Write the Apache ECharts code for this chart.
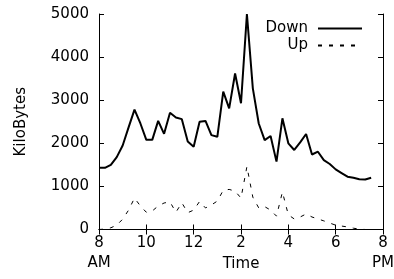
<!DOCTYPE html>
<html>
<head>
<meta charset="utf-8">
<script src="https://cdn.jsdelivr.net/npm/echarts@6/dist/echarts.min.js"></script>
<style>
  html, body { margin: 0; padding: 0; background: #fff; }
  #chart { width: 394px; height: 279px; }
</style>
</head>
<body>
<div id="chart"></div>
<script>
// 15-minute samples, 8:00 to 19:30
const times = [
  '8:00', '8:15', '8:30', '8:45', '9:00', '9:15', '9:30', '9:45',
  '10:00', '10:15', '10:30', '10:45', '11:00', '11:15', '11:30', '11:45',
  '12:00', '12:15', '12:30', '12:45', '13:00', '13:15', '13:30', '13:45',
  '14:00', '14:15', '14:30', '14:45', '15:00', '15:15', '15:30', '15:45',
  '16:00', '16:15', '16:30', '16:45', '17:00', '17:15', '17:30', '17:45',
  '18:00', '18:15', '18:30', '18:45', '19:00', '19:15', '19:30'
];
const down = [
  1430, 1430, 1500, 1680, 1950, 2370, 2780, 2460,
  2080, 2080, 2520, 2220, 2710, 2600, 2560, 2040,
  1920, 2500, 2520, 2190, 2150, 3200, 2810, 3620,
  2930, 5000, 3275, 2460, 2075, 2170, 1575, 2580,
  2000, 1845, 2020, 2215, 1740, 1805, 1610, 1520,
  1395, 1310, 1225, 1200, 1165, 1160, 1200
];
const up = [
  0, 10, 40, 100, 240, 450, 730, 545,
  400, 430, 545, 615, 640, 400, 620, 390,
  450, 650, 500, 570, 660, 910, 930, 890,
  730, 1460, 750, 500, 530, 450, 310, 870,
  340, 245, 290, 360, 290, 245, 200, 150,
  100, 80, 60, 30, 10, 0, 0
];
const xTickLabels = { 8: '8\nAM', 10: '10', 12: '12', 14: '2', 16: '4', 18: '6', 20: '8\nPM' };

const FONT = 'DejaVu Sans';
const toHours = t => { const [h, m] = t.split(':').map(Number); return h + m / 60; };
const pairs = arr => times.map((t, i) => [toHours(t), arr[i]]);

const axisLine = { show: true, lineStyle: { color: '#000', width: 1 } };
const tick = { show: true, inside: true, length: 5, lineStyle: { color: '#000' } };

const chart = echarts.init(document.getElementById('chart'), null, { renderer: 'canvas' });
chart.setOption({
  backgroundColor: '#fff',
  animation: false,
  textStyle: { fontFamily: FONT, color: '#000' },
  grid: { left: 99, right: 11, top: 14, bottom: 49.5, outerBoundsMode: 'none', containLabel: false },
  legend: {
    orient: 'vertical',
    right: 31,
    top: 20,
    padding: 0,
    align: 'right',
    itemWidth: 44,
    itemHeight: 4,
    itemGap: 0,
    itemStyle: { color: 'rgba(0,0,0,0)', borderWidth: 0, opacity: 0 },
    textStyle: { fontFamily: FONT, fontSize: 15, color: '#000', lineHeight: 17, padding: [0, 5, 0, 0] },
    data: ['Down', 'Up']
  },
  xAxis: [{
    type: 'value', min: 8, max: 20, interval: 2,
    name: 'Time', nameLocation: 'middle', nameGap: 27, nameMoveOverlap: false,
    nameTextStyle: { fontFamily: FONT, fontSize: 15, color: '#000' },
    axisLine, axisTick: tick, splitLine: { show: false },
    axisLabel: {
      fontFamily: FONT, fontSize: 15, color: '#000', margin: 4, lineHeight: 20,
      formatter: v => xTickLabels[v] ?? ''
    }
  }, {
    type: 'value', min: 8, max: 20, interval: 2, position: 'top',
    axisLine, axisTick: tick, splitLine: { show: false }, axisLabel: { show: false }
  }],
  yAxis: [{
    type: 'value', min: 0, max: 5000, interval: 1000,
    name: 'KiloBytes', nameLocation: 'middle', nameGap: 70, nameRotate: 90,
    nameTextStyle: { fontFamily: FONT, fontSize: 15, color: '#000' },
    axisLine, axisTick: tick, splitLine: { show: false },
    axisLabel: { fontFamily: FONT, fontSize: 15, color: '#000', margin: 10, formatter: v => String(v) }
  }, {
    type: 'value', min: 0, max: 5000, interval: 1000, position: 'right',
    axisLine, axisTick: tick, splitLine: { show: false }, axisLabel: { show: false }
  }],
  series: [{
    name: 'Down', type: 'line', data: pairs(down),
    showSymbol: false, symbol: 'none',
    lineStyle: { color: '#000', width: 2 }, itemStyle: { color: '#000' }
  }, {
    name: 'Up', type: 'line', data: pairs(up),
    showSymbol: false, symbol: 'none',
    lineStyle: { color: '#000', width: 1, type: [4, 7] }, itemStyle: { color: '#000' }
  }]
});
</script>
</body>
</html>
